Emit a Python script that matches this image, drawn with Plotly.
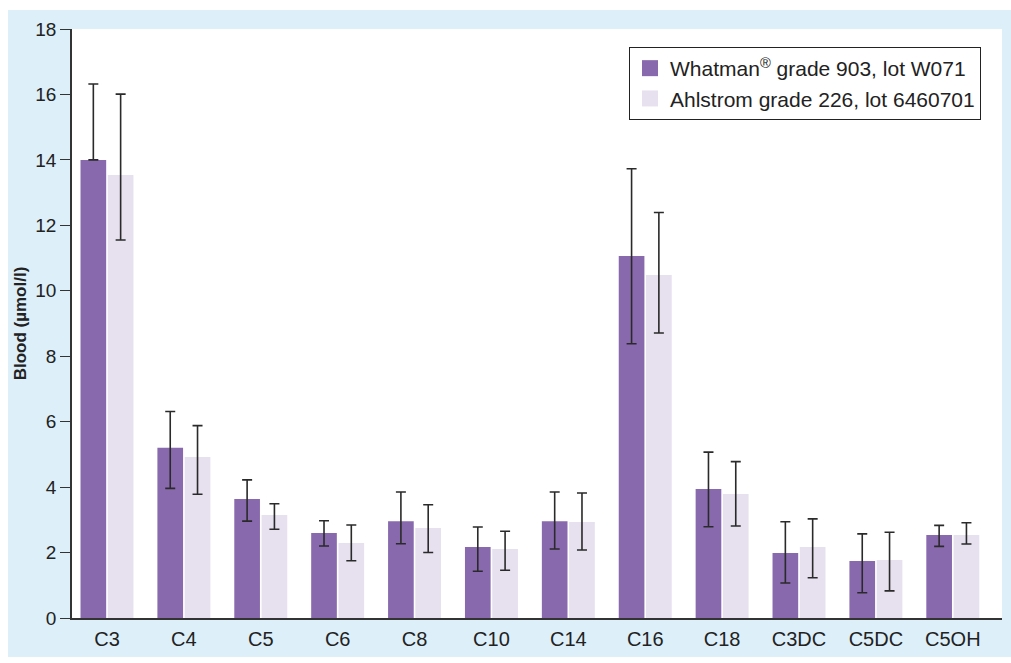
import plotly.graph_objects as go

categories = ["C3", "C4", "C5", "C6", "C8", "C10", "C14", "C16", "C18", "C3DC", "C5DC", "C5OH"]
whatman = [14.0, 5.2, 3.64, 2.6, 2.96, 2.17, 2.96, 11.06, 3.94, 1.99, 1.74, 2.54]
whatman_err_plus = [2.32, 1.11, 0.58, 0.37, 0.89, 0.61, 0.89, 2.67, 1.13, 0.95, 0.83, 0.29]
whatman_err_minus = [0.0, 1.24, 0.68, 0.40, 0.69, 0.74, 0.85, 2.68, 1.15, 0.92, 0.97, 0.35]
ahlstrom = [13.54, 4.92, 3.15, 2.29, 2.75, 2.11, 2.93, 10.48, 3.79, 2.17, 1.77, 2.54]
ahlstrom_err_plus = [2.47, 0.96, 0.34, 0.55, 0.71, 0.54, 0.89, 1.91, 0.99, 0.86, 0.85, 0.37]
ahlstrom_err_minus = [1.99, 1.14, 0.44, 0.54, 0.75, 0.65, 0.85, 1.77, 0.98, 0.94, 0.94, 0.28]
y_ticks = [0, 2, 4, 6, 8, 10, 12, 14, 16, 18]
series_names = ["Whatman<sup>®</sup> grade 903, lot W071", "Ahlstrom grade 226, lot 6460701"]

W, H = 1011, 663
L, R, T, B = 72, 9, 29, 45
pw, ph = W - L - R, H - T - B

FONT = "Liberation Sans, Arial, Helvetica, sans-serif"
BLUE = "#DDEFF9"
DARK = "#8869AD"
LIGHT = "#E6E0EF"
ERR = "#2a2a2a"
TXT = "#222222"

fig = go.Figure()
fig.add_trace(go.Bar(
    x=categories, y=whatman, name=series_names[0], showlegend=False,
    marker=dict(color=DARK, line=dict(width=0)),
    error_y=dict(type="data", symmetric=False, array=whatman_err_plus, arrayminus=whatman_err_minus,
                 color=ERR, thickness=1.6, width=5),
))
fig.add_trace(go.Bar(
    x=categories, y=ahlstrom, name=series_names[1], showlegend=False,
    marker=dict(color=LIGHT, line=dict(width=0)),
    error_y=dict(type="data", symmetric=False, array=ahlstrom_err_plus, arrayminus=ahlstrom_err_minus,
                 color=ERR, thickness=1.6, width=5),
))
# legend entries with larger square swatches
for name, col in zip(series_names, [DARK, LIGHT]):
    fig.add_trace(go.Scatter(
        x=[None], y=[None], mode="markers", name=name,
        marker=dict(symbol="square", size=16, color=col, line=dict(width=0)),
    ))


def px2paper_x(px):
    return (px - L) / pw


def px2paper_y(py):
    return (H - B - py) / ph


# white page margins around the light-blue panel (outside plot area)
for (x0, y0, x1, y1) in [(0, 0, 8, H), (0, 0, W, 10), (0, 657, W, H)]:
    fig.add_shape(type="rect", xref="paper", yref="paper",
                  x0=px2paper_x(x0), x1=px2paper_x(x1),
                  y0=px2paper_y(y1), y1=px2paper_y(y0),
                  fillcolor="white", line=dict(width=0), layer="above")

fig.update_layout(
    width=W, height=H,
    margin=dict(l=L, r=R, t=T, b=B, pad=0),
    paper_bgcolor=BLUE, plot_bgcolor="white",
    barmode="group", bargap=0.29, bargroupgap=0.06,
    font=dict(family=FONT, size=18, color=TXT),
    showlegend=True,
    legend=dict(
        x=px2paper_x(981), y=px2paper_y(47), xanchor="right", yanchor="top",
        bgcolor="white", bordercolor=TXT, borderwidth=1,
        font=dict(family=FONT, size=21, color=TXT),
        itemsizing="trace", tracegroupgap=0,
    ),
    xaxis=dict(
        type="category", range=[-0.455, 11.64],
        showline=True, linecolor="#333333", linewidth=1.5,
        ticks="", showgrid=False, zeroline=False,
        tickfont=dict(family=FONT, size=20, color=TXT),
        ticklabelstandoff=2,
    ),
    yaxis=dict(
        range=[0, 18], tickvals=y_ticks, ticktext=[str(v) for v in y_ticks],
        showline=True, linecolor="#333333", linewidth=1.5,
        ticks="outside", ticklen=10, tickwidth=1.2, tickcolor="#333333",
        showgrid=False, zeroline=False,
        tickfont=dict(family=FONT, size=19, color=TXT),
        ticklabelstandoff=0,
        title=dict(text="<b>Blood (µmol/l)</b>", font=dict(family=FONT, size=17, color=TXT), standoff=4),
    ),
)

fig.write_html("out.html")
